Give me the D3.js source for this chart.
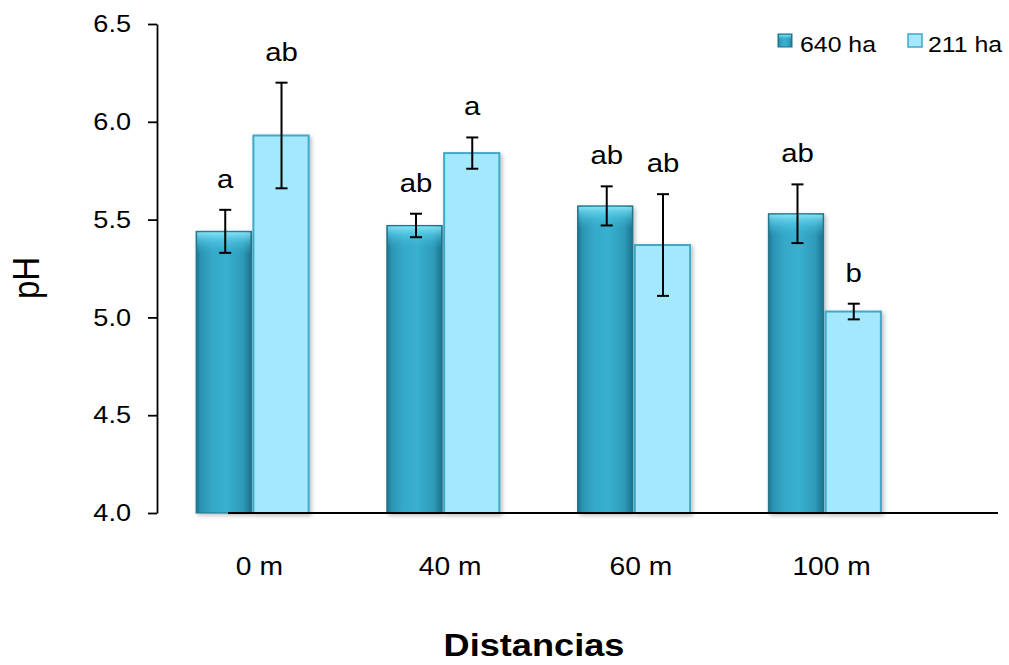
<!DOCTYPE html>
<html>
<head>
<meta charset="utf-8">
<script src="https://cdn.jsdelivr.net/npm/d3@7"></script>
<style>
  body { margin: 0; background: #fff; }
  text { font-family: "Liberation Sans", Arial, sans-serif; fill: #000; }
</style>
</head>
<body>
<div id="chart"></div>
<script>
// data
const distances = ['0 m', '40 m', '60 m', '100 m'];
const seriesNames = ['640 ha', '211 ha'];
const means640 = [5.44, 5.47, 5.57, 5.53];
const means211 = [5.93, 5.84, 5.37, 5.03];
const err640 = [0.11, 0.06, 0.10, 0.15];
const err211 = [0.27, 0.08, 0.26, 0.04];
const letters640 = ['a', 'ab', 'ab', 'ab'];
const letters211 = ['ab', 'a', 'ab', 'b'];
const yTicks = [4.0, 4.5, 5.0, 5.5, 6.0, 6.5];

const width = 1009, height = 665;
const margin = {top: 24, right: 11, bottom: 152, left: 157};
const SX = 1.13; // the original picture is a little stretched sideways

const svg = d3.select('#chart').append('svg')
  .attr('width', width)
  .attr('height', height);

// text helper, stretched like the reference
function label(parent, x, y, str, size, anchor) {
  return parent.append('text')
    .attr('transform', `translate(${x},${y}) scale(${SX},1)`)
    .attr('text-anchor', anchor || 'start')
    .style('font-size', size + 'px')
    .text(str);
}

const defs = svg.append('defs');

// glassy teal for the 640 ha bars
const g1 = defs.append('linearGradient').attr('id', 'dark').attr('x1', 0).attr('x2', 1).attr('y1', 0).attr('y2', 0);
[[0, '#1c7089'], [0.08, '#2b93b1'], [0.3, '#35a9c9'], [0.55, '#38b0d0'], [0.85, '#2d9ab8'], [1, '#1d728b']]
  .forEach(s => g1.append('stop').attr('offset', s[0]).attr('stop-color', s[1]));
const g2 = defs.append('linearGradient').attr('id', 'darktop').attr('x1', 0).attr('x2', 0).attr('y1', 0).attr('y2', 1);
[[0, '#8fe6f7', 0.9], [0.35, '#5fd3ee', 0.6], [1, '#38b0d0', 0]]
  .forEach(s => g2.append('stop').attr('offset', s[0]).attr('stop-color', s[1]).attr('stop-opacity', s[2]));

const shadow = defs.append('filter').attr('id', 'shadow').attr('x', -0.2).attr('y', -0.1).attr('width', 1.5).attr('height', 1.3);
shadow.append('feDropShadow').attr('dx', 2).attr('dy', 2).attr('stdDeviation', 2)
  .attr('flood-color', '#000').attr('flood-opacity', 0.25);

const x = d3.scaleBand()
  .domain(distances)
  .range([margin.left, 920])
  .paddingInner(0.41)
  .paddingOuter(0.205);

const xSub = d3.scaleBand()
  .domain(seriesNames)
  .range([0, x.bandwidth()])
  .padding(0);

const y = d3.scaleLinear()
  .domain([4.0, 6.5])
  .range([height - margin.bottom, margin.top]);

// y axis
const yAxis = svg.append('g')
  .attr('transform', `translate(${margin.left},0)`)
  .call(d3.axisLeft(y).tickValues(yTicks).tickFormat(d3.format('.1f')).tickSize(9).tickSizeOuter(0).tickPadding(17));
yAxis.select('.domain').attr('stroke', '#000').attr('stroke-width', 1.8);
yAxis.selectAll('.tick line').attr('stroke', '#000').attr('stroke-width', 1.8);
yAxis.selectAll('.tick text')
  .style('font-size', '24px')
  .style('font-family', '"Liberation Sans", Arial, sans-serif')
  .attr('transform', function() { return `translate(${this.getAttribute('x')},0) scale(${SX},1)`; })
  .attr('x', 0);

const rows = distances.map((d, i) => ({
  dist: d,
  vals: [
    {s: seriesNames[0], v: means640[i], e: err640[i], l: letters640[i]},
    {s: seriesNames[1], v: means211[i], e: err211[i], l: letters211[i]}
  ]
}));

const groups = svg.append('g').selectAll('g')
  .data(rows)
  .enter().append('g')
  .attr('transform', d => `translate(${x(d.dist)},0)`);

const bw = xSub.bandwidth();

groups.each(function(d) {
  const g = d3.select(this);
  // 640 ha
  const a = d.vals[0];
  const x0 = xSub(a.s);
  g.append('rect')
    .attr('x', x0).attr('y', y(a.v))
    .attr('width', bw - 1).attr('height', y(4) - y(a.v))
    .attr('fill', 'url(#dark)')
    .attr('stroke', '#1d7088').attr('stroke-width', 1)
    .attr('filter', 'url(#shadow)');
  g.append('rect')
    .attr('x', x0 + 1).attr('y', y(a.v) + 1)
    .attr('width', bw - 3).attr('height', 22)
    .attr('fill', 'url(#darktop)');

  // 211 ha
  const b = d.vals[1];
  g.append('rect')
    .attr('x', xSub(b.s) + 1).attr('y', y(b.v))
    .attr('width', bw - 1).attr('height', y(4) - y(b.v))
    .attr('fill', '#a3e8fc')
    .attr('stroke', '#40a9c6').attr('stroke-width', 2)
    .attr('filter', 'url(#shadow)');
});

// error bars and letters
groups.each(function(d) {
  const g = d3.select(this);
  d.vals.forEach(p => {
    const cx = xSub(p.s) + bw / 2 + 1;
    const top = y(p.v + p.e), bot = y(p.v - p.e);
    g.append('line').attr('x1', cx).attr('x2', cx).attr('y1', top).attr('y2', bot)
      .attr('stroke', '#000').attr('stroke-width', 2);
    [top, bot].forEach(yy => g.append('line')
      .attr('x1', cx - 6).attr('x2', cx + 6).attr('y1', yy).attr('y2', yy)
      .attr('stroke', '#000').attr('stroke-width', 2));
    label(g, cx, top - 22, p.l, 26, 'middle');
  });
});

// x axis line (starts inside the first group like the original)
svg.append('line')
  .attr('x1', 228).attr('x2', 998)
  .attr('y1', y(4)).attr('y2', y(4))
  .attr('stroke', '#000').attr('stroke-width', 2);

// category labels
distances.forEach(d => label(svg, x(d) + x.bandwidth() / 2 + 7, 575, d, 25, 'middle'));

// axis titles
label(svg, 534, 656, 'Distancias', 32, 'middle').style('font-weight', 'bold');

svg.append('text')
  .attr('transform', `translate(39,278) scale(${SX},1) rotate(-90)`)
  .attr('text-anchor', 'middle')
  .style('font-size', '33px')
  .text('pH');

// legend
const legend = svg.append('g');
legend.append('rect').attr('x', 778).attr('y', 34).attr('width', 14).attr('height', 13)
  .attr('fill', 'url(#dark)').attr('stroke', '#1d7088');
legend.append('rect').attr('x', 779).attr('y', 35).attr('width', 12).attr('height', 5)
  .attr('fill', 'url(#darktop)');
label(legend, 800, 52, seriesNames[0], 22);
legend.append('rect').attr('x', 908).attr('y', 34).attr('width', 14).attr('height', 13)
  .attr('fill', '#a3e8fc').attr('stroke', '#40a9c6').attr('stroke-width', 1.5);
label(legend, 928, 52, seriesNames[1], 22);
</script>
</body>
</html>
